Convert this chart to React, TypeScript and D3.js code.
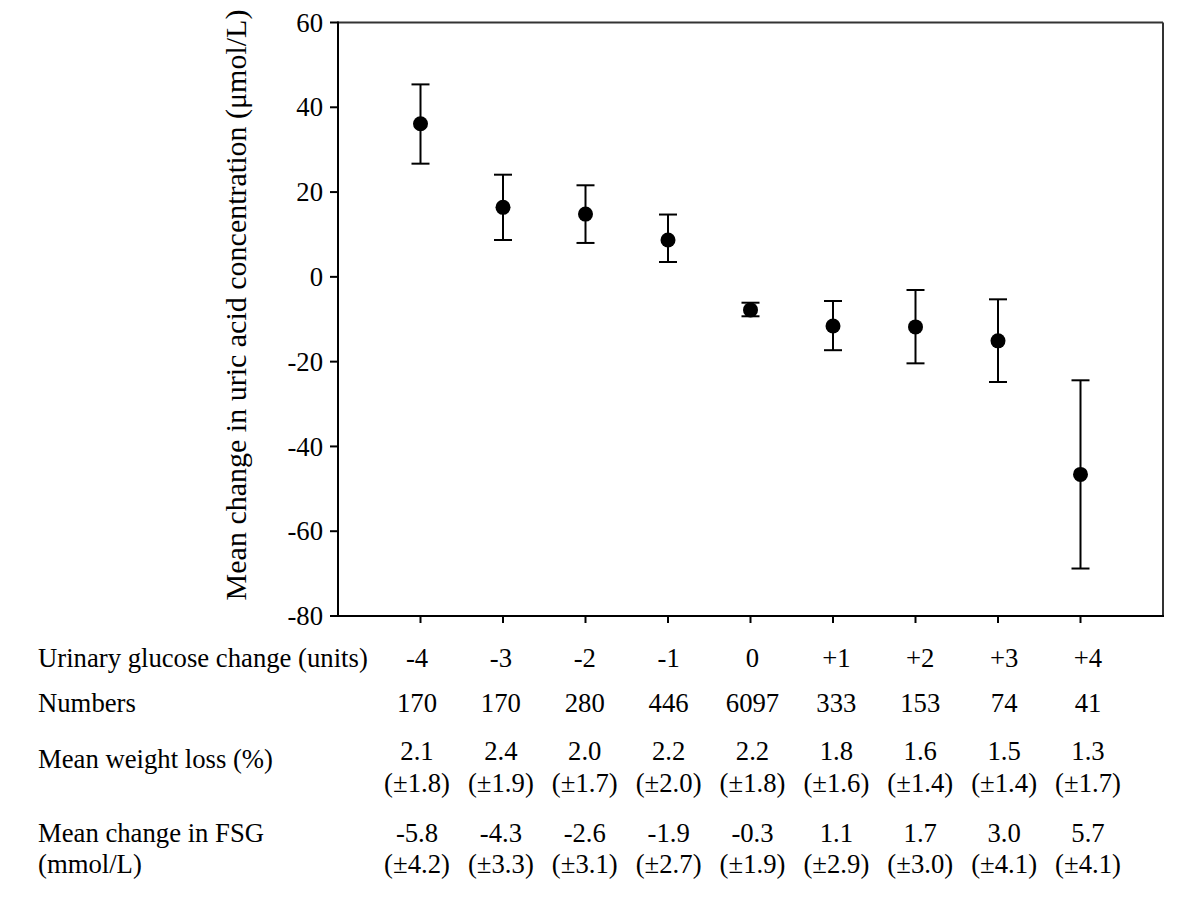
import React from "react";
import * as d3 from "d3";

const categories = ["-4", "-3", "-2", "-1", "0", "+1", "+2", "+3", "+4"];
const categoryValues = [-4, -3, -2, -1, 0, 1, 2, 3, 4];
const means = [36.1, 16.4, 14.8, 8.7, -7.8, -11.6, -11.8, -15.1, -46.6];
const upperErr = [45.4, 24.1, 21.6, 14.7, -6.1, -5.7, -3.1, -5.3, -24.4];
const lowerErr = [26.7, 8.7, 8.0, 3.5, -9.3, -17.3, -20.4, -24.8, -68.8];
const yTicks = [60, 40, 20, 0, -20, -40, -60, -80];

const numbers = ["170", "170", "280", "446", "6097", "333", "153", "74", "41"];
const weightLoss = ["2.1", "2.4", "2.0", "2.2", "2.2", "1.8", "1.6", "1.5", "1.3"];
const weightLossSd = ["1.8", "1.9", "1.7", "2.0", "1.8", "1.6", "1.4", "1.4", "1.7"];
const fsgChange = ["-5.8", "-4.3", "-2.6", "-1.9", "-0.3", "1.1", "1.7", "3.0", "5.7"];
const fsgSd = ["4.2", "3.3", "3.1", "2.7", "1.9", "2.9", "3.0", "4.1", "4.1"];

const rowLabels = [
  "Urinary glucose change (units)",
  "Numbers",
  "Mean weight loss (%)",
  "Mean change in FSG",
  "(mmol/L)",
];

const FONT = "'Liberation Serif', 'Times New Roman', serif";

export default function App() {
  const W = 1200;
  const H = 900;
  const left = 338;
  const right = 1163;
  const top = 22.5;
  const bottom = 616;

  const x = d3.scaleLinear().domain([-5, 5]).range([left, right]);
  const y = d3.scaleLinear().domain([-80, 60]).range([bottom, top]);
  const tx = d3.scaleLinear().domain([-4, 4]).range([417, 1088]);

  const capHalf = 9;
  const r = 7.5;
  const fs = 26.7;

  return (
    <svg
      width={W}
      height={H}
      style={{ position: "absolute", left: 0, top: 0, background: "#fff" }}
      fontFamily={FONT}
    >
      <rect x={0} y={0} width={W} height={H} fill="#fff" />
      {/* frame */}
      <line x1={left} x2={right} y1={top} y2={top} stroke="#333" strokeWidth={2} />
      <line x1={right} x2={right} y1={top} y2={bottom} stroke="#333" strokeWidth={2} />
      <line x1={left} x2={left} y1={top - 1} y2={bottom + 1} stroke="#000" strokeWidth={2} />
      <line x1={left - 1} x2={right + 1} y1={bottom} y2={bottom} stroke="#000" strokeWidth={2} />

      {/* y ticks */}
      {yTicks.map((t) => (
        <g key={t}>
          <line x1={left - 8} x2={left} y1={y(t)} y2={y(t)} stroke="#000" strokeWidth={2} />
          <text
            x={left - 15}
            y={y(t)}
            dy="0.34em"
            textAnchor="end"
            fontSize={fs}
            fill="#000"
          >
            {t}
          </text>
        </g>
      ))}

      {/* x ticks */}
      {categoryValues.map((c) => (
        <line key={c} x1={x(c)} x2={x(c)} y1={bottom} y2={bottom + 7} stroke="#000" strokeWidth={2} />
      ))}

      {/* y axis label */}
      <text
        transform={`translate(246, 305) rotate(-90)`}
        textAnchor="middle"
        fontSize={30}
        fill="#000"
      >
        Mean change in uric acid concentration (μmol/L)
      </text>

      {/* error bars and points */}
      {categoryValues.map((c, i) => (
        <g key={c}>
          <line x1={x(c)} x2={x(c)} y1={y(upperErr[i])} y2={y(lowerErr[i])} stroke="#000" strokeWidth={2} />
          <line x1={x(c) - capHalf} x2={x(c) + capHalf} y1={y(upperErr[i])} y2={y(upperErr[i])} stroke="#000" strokeWidth={2} />
          <line x1={x(c) - capHalf} x2={x(c) + capHalf} y1={y(lowerErr[i])} y2={y(lowerErr[i])} stroke="#000" strokeWidth={2} />
          <circle cx={x(c)} cy={y(means[i])} r={r} fill="#000" />
        </g>
      ))}

      {/* table */}
      <g fontSize={fs} fill="#000">
        <text x={38} y={667}>{rowLabels[0]}</text>
        <text x={38} y={712}>{rowLabels[1]}</text>
        <text x={38} y={768}>{rowLabels[2]}</text>
        <text x={38} y={842}>{rowLabels[3]}</text>
        <text x={38} y={873}>{rowLabels[4]}</text>
        {categoryValues.map((c, i) => (
          <g key={c} textAnchor="middle">
            <text x={tx(c)} y={667}>{categories[i]}</text>
            <text x={tx(c)} y={712}>{numbers[i]}</text>
            <text x={tx(c)} y={760}>{weightLoss[i]}</text>
            <text x={tx(c)} y={792}>{`(±${weightLossSd[i]})`}</text>
            <text x={tx(c)} y={842}>{fsgChange[i]}</text>
            <text x={tx(c)} y={873}>{`(±${fsgSd[i]})`}</text>
          </g>
        ))}
      </g>
    </svg>
  );
}
